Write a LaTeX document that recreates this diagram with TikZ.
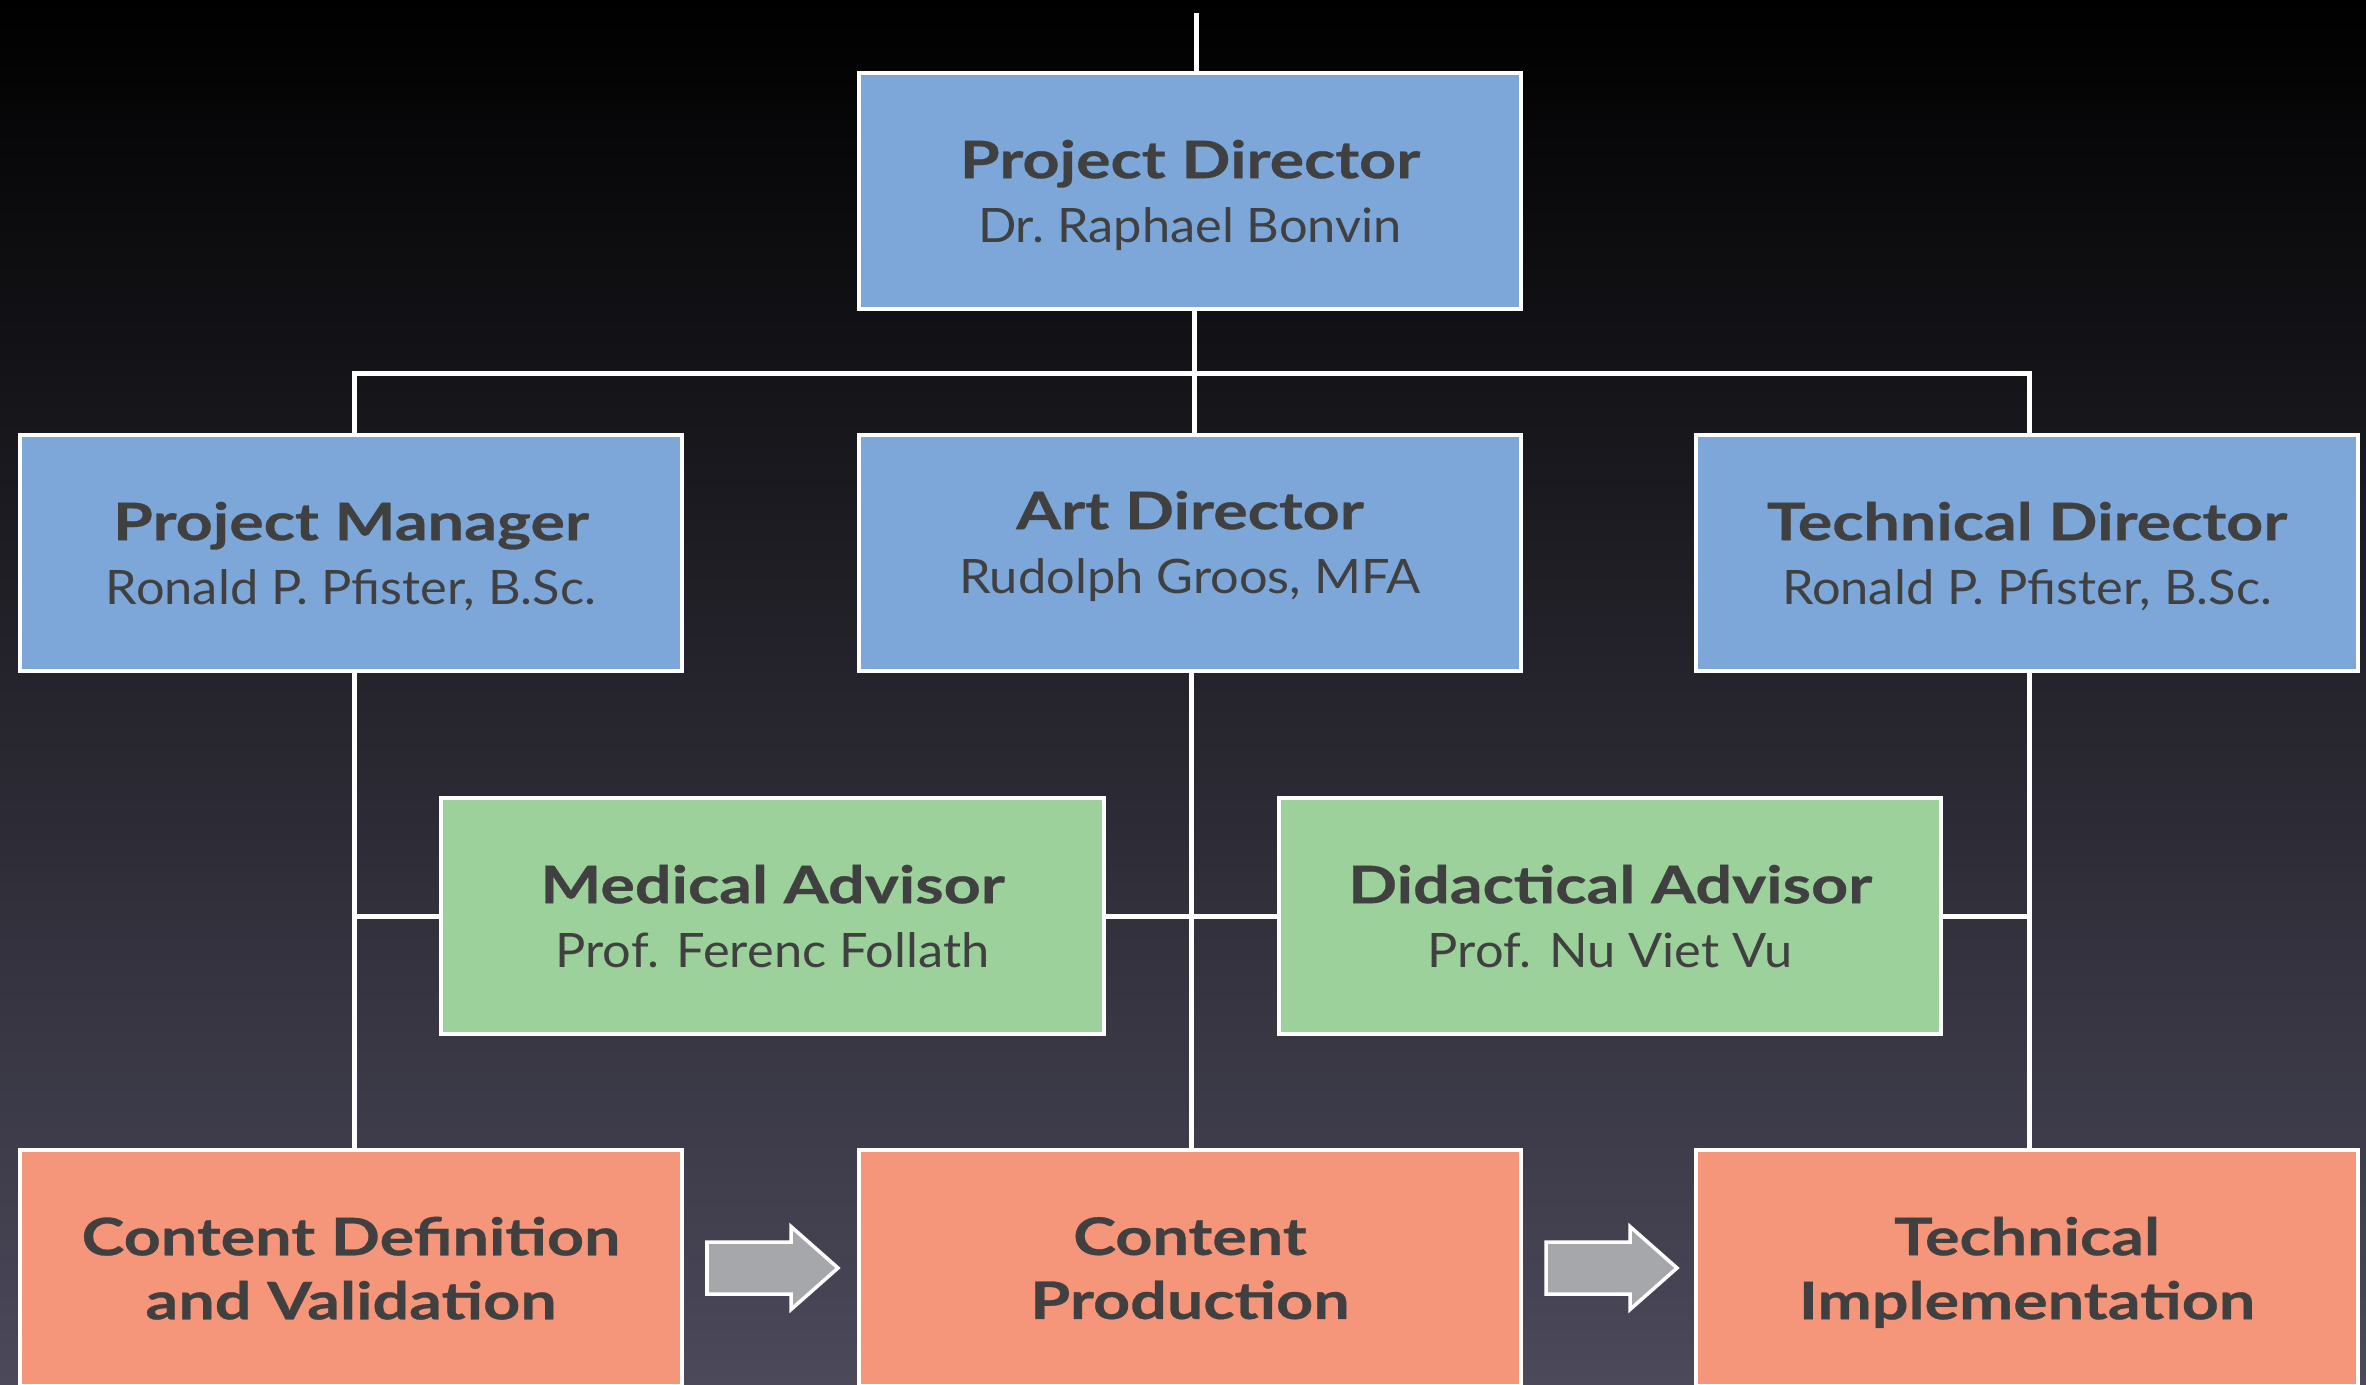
\documentclass[tikz,border=0pt]{standalone}
\usepackage{fontspec}
\setmainfont{Lato}
\newfontfamily\tfont[FakeStretch=1.25,BoldFeatures={FakeBold=0.6}]{Lato}
\newfontfamily\sfnt[FakeStretch=1.065]{Lato}
\usetikzlibrary{calc}
\definecolor{bluefill}{RGB}{124,167,216}
\definecolor{greenfill}{RGB}{157,209,155}
\definecolor{salmonfill}{RGB}{245,150,122}
\definecolor{arrowgray}{RGB}{166,167,171}
\definecolor{textgray}{RGB}{64,64,64}
\definecolor{bgbot}{RGB}{75,73,90}
\newcommand\boxtitle[1]{{\tfont\bfseries #1}}
\newcommand\boxsub[1]{{\sfnt\fontsize{13.5}{18.2}\selectfont #1}}
\newcommand\lastline[1]{\raisebox{0pt}[\height][0pt]{#1}}
\begin{document}
\begin{tikzpicture}[x=0.01cm,y=-0.01cm,
  orgbox/.style={draw=white, line width=1.2pt, minimum width=6.62cm, minimum height=2.36cm,
    inner sep=0pt, align=center, text=textgray, font=\fontsize{14.7}{18.2}\selectfont},
  bluebox/.style={orgbox, fill=bluefill},
  greenbox/.style={orgbox, fill=greenfill},
  salmonbox/.style={orgbox, fill=salmonfill},
  conn/.style={draw=white, line width=1.4pt},
  blockarrow/.style={fill=arrowgray, draw=white, line width=1pt, line join=miter},
  flowarrow/.pic={\path[blockarrow] (-65.5,-26) -- (18.5,-26) -- (18.5,-41.5) -- (65.5,0)
     -- (18.5,41.5) -- (18.5,26) -- (-65.5,26) -- cycle;}
]
\clip (0,0) rectangle (2366,1384);
\fill[top color=black, bottom color=bgbot] (0,0) rectangle (2366,1384);

% connector junctions
\coordinate (top) at (1196.5,13);
\coordinate (busc) at (1194.5,373.5);
\coordinate (cl) at (354.5,373.5);
\coordinate (cr) at (2029.5,373.5);
\coordinate (ml) at (354.5,916.5);
\coordinate (mc) at (1191.5,916.5);
\coordinate (mr) at (2029.5,916.5);

% nodes
\node[bluebox] (pd) at (1190,191) {\boxtitle{Project Director}\\\lastline{\boxsub{Dr.\ Raphael Bonvin}}};
\node[bluebox] (pm) at (351,553) {\boxtitle{Project Manager}\\\lastline{\boxsub{Ronald P. Pfister, B.Sc.}}};
\node[bluebox] (ad) at (1190,553) {};
\node[orgbox, draw=none, fill=none, minimum width=0pt, minimum height=0pt] (adt) at (1190,542)
  {\boxtitle{Art Director}\\\lastline{\boxsub{Rudolph Groos, MFA}}};
\node[bluebox] (td) at (2027,553) {\boxtitle{Technical Director}\\\lastline{\boxsub{Ronald P. Pfister, B.Sc.}}};
\node[greenbox] (ma) at (772.5,916) {\boxtitle{Medical Advisor}\\\lastline{\boxsub{Prof. Ferenc Follath}}};
\node[greenbox] (da) at (1610,916) {\boxtitle{Didactical Advisor}\\\lastline{\boxsub{Prof. Nu Viet Vu}}};
\node[salmonbox] (cdv) at (351,1268) {\boxtitle{Content Definition}\\\lastline{\boxtitle{and Validation}}};
\node[salmonbox] (cp) at (1190,1268) {\boxtitle{Content}\\\lastline{\boxtitle{Production}}};
\node[salmonbox] (ti) at (2027,1268) {\boxtitle{Technical}\\\lastline{\boxtitle{Implementation}}};

% connectors
\draw[conn] (top) -- (top |- pd.north);
\draw[conn] (busc |- pd.south) -- (busc);
\draw[conn] (cl |- pm.north) -- (cl) -- (cr) -- (cr |- td.north);
\draw[conn] (busc) -- (busc |- ad.north);
\draw[conn] (ml |- pm.south) -- (ml |- cdv.north);
\draw[conn] (mc |- ad.south) -- (mc |- cp.north);
\draw[conn] (mr |- td.south) -- (mr |- ti.north);
\draw[conn] (ma.west |- ml) -- (ml);
\draw[conn] (ma.east |- mc) -- (da.west |- mc);
\draw[conn] (da.east |- mr) -- (mr);

% flow arrows
\coordinate (f1) at (772.5,1268);
\coordinate (f2) at (1611.5,1268);
\pic at (f1) {flowarrow};
\pic at (f2) {flowarrow};
\end{tikzpicture}
\end{document}
